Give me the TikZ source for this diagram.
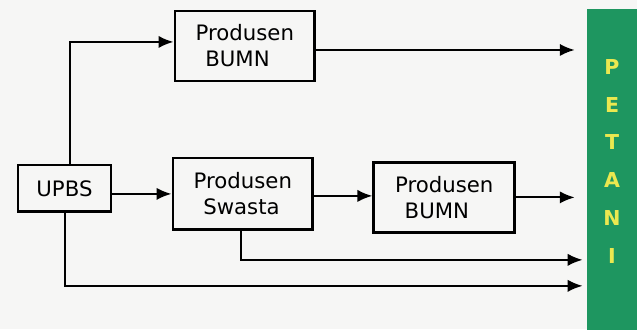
\documentclass[tikz,border=0pt]{standalone}
\usepackage{fontspec}
\setmainfont{DejaVu Sans}
\usetikzlibrary{arrows.meta}
\definecolor{bgcol}{RGB}{246,246,245}
\definecolor{petgreen}{RGB}{30,150,96}
\definecolor{petmid}{RGB}{85,165,78}
\definecolor{petyellow}{RGB}{235,232,80}
\begin{document}
\begin{tikzpicture}[x=0.02cm,y=-0.02cm,
  box/.style={draw,line width=1.6pt,minimum width=2.8cm,minimum height=1.4cm,align=left,
    font=\fontsize{12.1}{14.7}\selectfont,inner sep=0pt},
  arr/.style={line width=1.2pt,-{Latex[length=8.5pt,width=7pt]}}]
\fill[bgcol] (0,0) rectangle (637,329);
\node[box] (bumnA) at (245,46) {Produsen\\\hspace*{.45em}BUMN};
\node[box,minimum width=1.86cm,minimum height=0.94cm] (upbs) at (64.5,188.5) {UPBS};
\node[box,minimum height=1.44cm] (swasta) at (243,194) {Produsen\\\hspace*{.45em}Swasta};
\node[box,minimum width=2.82cm] (bumnB) at (444.5,197.5) {Produsen\\\hspace*{.45em}BUMN};
\node[anchor=north west,minimum width=1cm,minimum height=6.4cm,inner sep=0pt,
  top color=petgreen,middle color=petmid,bottom color=petgreen,
  text=petyellow,font=\fontsize{11.7}{21.5}\selectfont\bfseries] (petani) at (587,9)
  {\raisebox{1.6pt}[0pt][0pt]{\begin{tabular}{@{}c@{}}P\\E\\T\\A\\N\\I\end{tabular}}};
% arus benih
\draw[arr] ([xshift=3pt]upbs.north) |- ([yshift=2.3pt]bumnA.west);
\draw[arr] (upbs.east |- swasta.west) -- (swasta.west);
\draw[arr] (swasta.east |- 0,196) -- (bumnB.west |- 0,196);
\draw[arr,shorten >=6.8pt] (bumnA.east |- 0,50) -- (petani.west |- 0,50);
\draw[arr,shorten >=6.8pt] (bumnB.east) -- (petani.west |- bumnB.east);
\draw[arr,shorten >=2.3pt] ([xshift=-1pt]swasta.south) |- (petani.west |- 0,260);
\draw[arr,shorten >=2.3pt] ([xshift=0.3pt]upbs.south) |- (petani.west |- 0,286);
\end{tikzpicture}
\end{document}
